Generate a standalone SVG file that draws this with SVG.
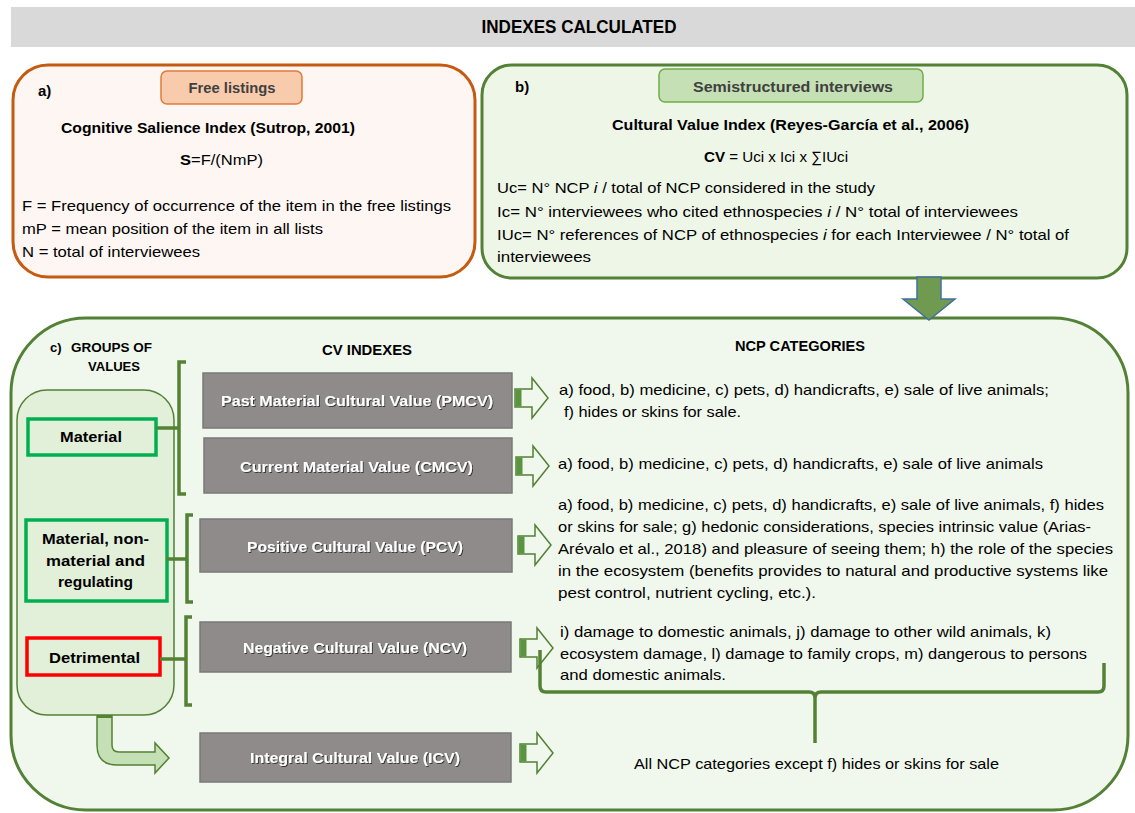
<svg xmlns="http://www.w3.org/2000/svg" width="1135" height="813" viewBox="0 0 1135 813">
<defs>
<style>
text{font-family:"Liberation Sans",Arial,sans-serif;fill:#000}
.b{font-weight:bold}
.t15{font-size:15px}
.t14{font-size:14px}
.t13{font-size:13px}
.lbl{font-size:15px;font-weight:bold;fill:#404040}
.gw{font-size:15px;font-weight:bold;fill:#fff}
.gray{fill:#8f8b8b;stroke:#7a7a7a;stroke-width:1.5}
.grp{fill:#e2efd9;stroke:#00b050;stroke-width:3.5}
.brk{fill:none;stroke:#548235;stroke-width:3.5}
.oa{fill:#f0f7ec;stroke:#538135;stroke-width:1.5}
.band{fill:#5a9440}
</style>
<filter id="sh" x="-5%" y="-20%" width="110%" height="140%">
<feDropShadow dx="1" dy="1" stdDeviation="0.6" flood-color="#000" flood-opacity="0.6"/>
</filter>
<g id="oarrow">
<polygon class="oa" points="0,-9 17,-9 17,-20 33,0 17,20 17,9 0,9"/>
<rect class="band" x="0.5" y="-8.5" width="6" height="17"/>
</g>
</defs>
<rect width="1135" height="813" fill="#fff"/>

<g id="title">
<rect x="11" y="7" width="1124" height="40" fill="#d9d9d9"/>
<text x="579" y="33" class="b" font-size="18" text-anchor="middle" textLength="195" lengthAdjust="spacingAndGlyphs">INDEXES CALCULATED</text>
</g>

<g id="box-a">
<rect x="13" y="65" width="462" height="212" rx="35" fill="#fdf6f2" stroke="#c55a11" stroke-width="3"/>
<rect x="161" y="71" width="141" height="33" rx="6" fill="#f8cbad" stroke="#e07b39" stroke-width="1.5"/>
<text x="232" y="93" class="lbl" text-anchor="middle" textLength="87" lengthAdjust="spacingAndGlyphs">Free listings</text>
<text x="38" y="96" class="b t15">a)</text>
<text x="61" y="133" class="b t15" textLength="294" lengthAdjust="spacingAndGlyphs">Cognitive Salience Index (Sutrop, 2001)</text>
<text x="180" y="165" class="t15" textLength="83" lengthAdjust="spacingAndGlyphs"><tspan class="b">S</tspan>=F/(NmP)</text>
<text x="22" y="211" class="t15" textLength="429" lengthAdjust="spacingAndGlyphs">F = Frequency of occurrence of the item in the free listings</text>
<text x="22" y="234" class="t15" textLength="301" lengthAdjust="spacingAndGlyphs">mP = mean position of the item in all lists</text>
<text x="22" y="257" class="t15" textLength="178" lengthAdjust="spacingAndGlyphs">N = total of interviewees</text>
</g>

<g id="box-b">
<rect x="482" y="65" width="645" height="213" rx="30" fill="#eef6e8" stroke="#538135" stroke-width="3"/>
<rect x="659" y="69" width="264" height="33" rx="6" fill="#c5e0b4" stroke="#70ad47" stroke-width="1.5"/>
<text x="793" y="92" class="lbl" text-anchor="middle" textLength="200" lengthAdjust="spacingAndGlyphs">Semistructured interviews</text>
<text x="515" y="92" class="b t15">b)</text>
<text x="612" y="130" class="b t15" textLength="357" lengthAdjust="spacingAndGlyphs">Cultural Value Index (Reyes-García et al., 2006)</text>
<text x="704" y="162" class="t15" textLength="144" lengthAdjust="spacingAndGlyphs"><tspan class="b">CV</tspan> = Uci x Ici x ∑IUci</text>
<text x="497" y="193" class="t15" textLength="378" lengthAdjust="spacingAndGlyphs">Uc= N° NCP <tspan font-style="italic">i</tspan> / total of NCP considered in the study</text>
<text x="497" y="217" class="t15" textLength="521" lengthAdjust="spacingAndGlyphs">Ic= N° interviewees  who cited ethnospecies <tspan font-style="italic">i</tspan> / N° total of interviewees</text>
<text x="497" y="240" class="t15" textLength="572" lengthAdjust="spacingAndGlyphs">IUc= N° references  of NCP of ethnospecies <tspan font-style="italic">i</tspan> for each Interviewee  / N° total of</text>
<text x="497" y="262" class="t15" textLength="94" lengthAdjust="spacingAndGlyphs">interviewees</text>
</g>

<g id="box-c">
<rect x="11" y="318" width="1117" height="492" rx="75" fill="#f0f7ec" stroke="#538135" stroke-width="3"/>
<text x="50" y="352" class="b t13">c)</text>
<text x="71" y="352" class="b t13" textLength="81" lengthAdjust="spacingAndGlyphs">GROUPS OF</text>
<text x="88" y="371" class="b t13" textLength="52" lengthAdjust="spacingAndGlyphs">VALUES</text>
<text x="322" y="355" class="b t14" textLength="90" lengthAdjust="spacingAndGlyphs">CV INDEXES</text>
<text x="735" y="351" class="b t14" textLength="130" lengthAdjust="spacingAndGlyphs">NCP CATEGORIES</text>
</g>

<g id="groups">
<rect x="17" y="390" width="157" height="325" rx="30" fill="#e2efd9" stroke="#538135" stroke-width="1.5"/>
</g>

<g id="material">
<rect class="grp" x="28" y="419" width="128" height="36"/>
<text x="60" y="442" class="b t15" textLength="62" lengthAdjust="spacingAndGlyphs">Material</text>
</g>
<g id="mixed">
<rect class="grp" x="26" y="520" width="141" height="81"/>
<text x="42" y="544" class="b t15" textLength="107" lengthAdjust="spacingAndGlyphs">Material, non-</text>
<text x="46" y="566" class="b t15" textLength="99" lengthAdjust="spacingAndGlyphs">material  and</text>
<text x="58" y="587" class="b t15" textLength="75" lengthAdjust="spacingAndGlyphs">regulating</text>
</g>
<g id="detrimental">
<rect x="27" y="638" width="133" height="37" fill="#e2efd9" stroke="#ff0000" stroke-width="3.5"/>
<text x="49" y="663" class="b t15" textLength="91" lengthAdjust="spacingAndGlyphs">Detrimental</text>
</g>

<g id="pmcv">
<rect class="gray" x="203" y="373" width="309" height="55"/>
<text x="221" y="406" class="gw" filter="url(#sh)" textLength="272" lengthAdjust="spacingAndGlyphs">Past Material Cultural Value (PMCV)</text>
</g>
<g id="cmcv">
<rect class="gray" x="204" y="438" width="308" height="55"/>
<text x="240" y="472" class="gw" filter="url(#sh)" textLength="233" lengthAdjust="spacingAndGlyphs">Current Material Value (CMCV)</text>
</g>
<g id="pcv">
<rect class="gray" x="200" y="519" width="312" height="53"/>
<text x="247" y="552" class="gw" filter="url(#sh)" textLength="216" lengthAdjust="spacingAndGlyphs">Positive Cultural Value (PCV)</text>
</g>
<g id="ncv">
<rect class="gray" x="200" y="622" width="311" height="50"/>
<text x="243" y="653" class="gw" filter="url(#sh)" textLength="224" lengthAdjust="spacingAndGlyphs">Negative Cultural Value (NCV)</text>
</g>
<g id="icv">
<rect class="gray" x="200" y="733" width="311" height="49"/>
<text x="250" y="763" class="gw" filter="url(#sh)" textLength="210" lengthAdjust="spacingAndGlyphs">Integral Cultural Value (ICV)</text>
</g>

<g id="ncp-pmcv">
<text x="559" y="395" class="t15" textLength="490" lengthAdjust="spacingAndGlyphs">a) food, b) medicine, c) pets, d) handicrafts, e) sale of live animals;</text>
<text x="564" y="417" class="t15" textLength="177" lengthAdjust="spacingAndGlyphs">f) hides or skins for sale.</text>
</g>
<g id="ncp-cmcv">
<text x="558" y="469" class="t15" textLength="485" lengthAdjust="spacingAndGlyphs">a) food, b) medicine, c) pets, d) handicrafts, e) sale of live animals</text>
</g>
<g id="ncp-pcv">
<text x="558" y="510" class="t15" textLength="546" lengthAdjust="spacingAndGlyphs">a) food, b) medicine, c) pets, d) handicrafts, e) sale of live animals, f) hides</text>
<text x="558" y="532" class="t15" textLength="533" lengthAdjust="spacingAndGlyphs">or skins for sale; g) hedonic considerations, species intrinsic value (Arias-</text>
<text x="558" y="554" class="t15" textLength="555" lengthAdjust="spacingAndGlyphs">Arévalo et al., 2018) and pleasure of seeing them; h) the role of the species</text>
<text x="558" y="576" class="t15" textLength="550" lengthAdjust="spacingAndGlyphs">in the ecosystem (benefits provides to natural and productive systems like</text>
<text x="558" y="598" class="t15" textLength="258" lengthAdjust="spacingAndGlyphs">pest control, nutrient cycling, etc.).</text>
</g>
<g id="ncp-ncv">
<text x="560" y="637" class="t15" textLength="491" lengthAdjust="spacingAndGlyphs">i) damage to domestic animals, j) damage to other wild animals, k)</text>
<text x="560" y="659" class="t15" textLength="527" lengthAdjust="spacingAndGlyphs">ecosystem damage, l) damage to family crops, m) dangerous to persons</text>
<text x="560" y="680" class="t15" textLength="166" lengthAdjust="spacingAndGlyphs">and domestic animals.</text>
</g>
<g id="ncp-icv">
<text x="634" y="769" class="t15" textLength="365" lengthAdjust="spacingAndGlyphs">All NCP categories except f) hides or skins for sale</text>
</g>

<g id="connectors">
<path class="brk" d="M186 362 L179 362 L179 494 L186 494 M157 428 L179 428"/>
<path class="brk" d="M193 515 L187 515 L187 602 L193 602 M166 559 L187 559"/>
<path class="brk" d="M192 617 L186 617 L186 705 L192 705 M160 659 L186 659"/>
<use href="#oarrow" x="515" y="398"/>
<use href="#oarrow" x="516" y="466"/>
<use href="#oarrow" x="518" y="545"/>
<use href="#oarrow" x="520" y="648"/>
<use href="#oarrow" x="520" y="753"/>
<path class="brk" d="M540 650 L540 686 Q540 692 546 692 L809 692 Q815 692 815 698 L815 743 M815 698 Q815 692 821 692 L1098 692 Q1104 692 1104 686 L1104 663"/>
<polygon points="917,277 941,277 941,299 955,299 929,320 903,299 917,299" fill="#6f9a4f" stroke="#41719c" stroke-width="1.5"/>
<path d="M97 716 L97 745 Q97 765 117 765 L155 765 L155 773 L169 758 L155 743 L155 752 L119 752 Q112 752 112 745 L112 716 Z" fill="#c5e0b4" stroke="#538135" stroke-width="1.5"/>
<rect x="97" y="715" width="15" height="3" fill="#538135"/>
</g>
</svg>
